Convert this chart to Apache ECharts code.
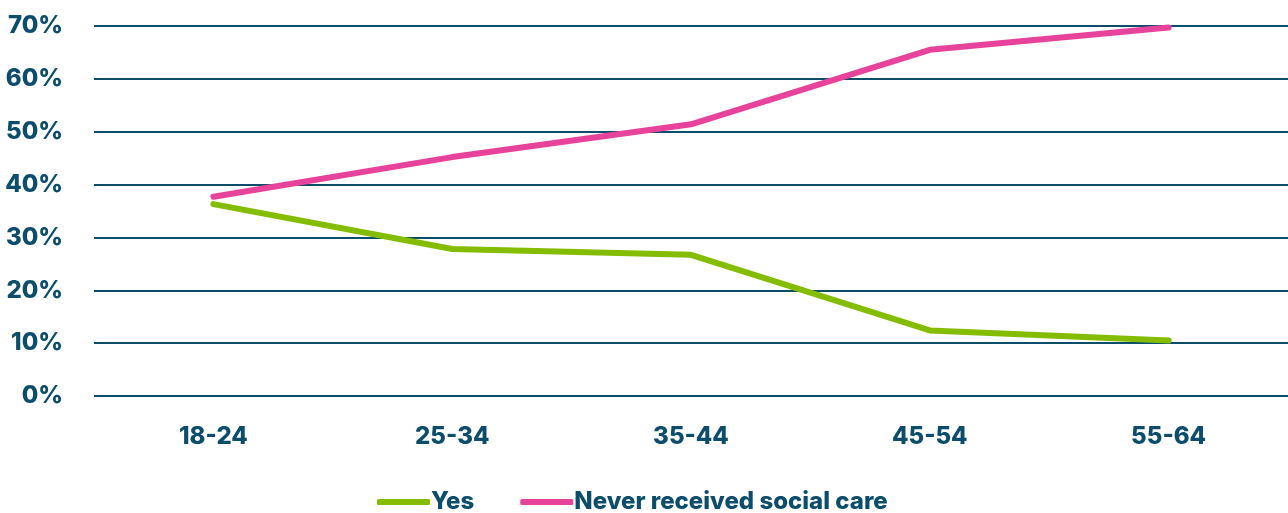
<!DOCTYPE html>
<html>
<head>
<meta charset="utf-8">
<script src="https://cdn.jsdelivr.net/npm/echarts@6/dist/echarts.min.js"></script>
<style>html,body{margin:0;padding:0;background:#fff}#c{width:1288px;height:513px}</style>
</head>
<body>
<div id="c"></div>
<script>
const categories = ['18-24', '25-34', '35-44', '45-54', '55-64'];
const yesValues = [36.3, 27.8, 26.7, 12.4, 10.5];
const neverValues = [37.7, 45.2, 51.4, 65.5, 69.7];
const seriesNames = ['Yes', 'Never received social care'];

const navy = '#0b4d6b';
const font = 'Inter';
const chart = echarts.init(document.getElementById('c'));
chart.setOption({
  animation: false,
  grid: { left: 94, right: 0, top: 26, bottom: 117 },
  legend: {
    top: 485,
    left: 372,
    itemWidth: 53,
    itemHeight: 6,
    itemGap: 46,
    icon: 'roundRect',
    textStyle: { color: navy, fontFamily: font, fontWeight: 800, fontSize: 24, padding: [0,0,0,-4] },
    data: seriesNames
  },
  xAxis: {
    type: 'category',
    data: categories,
    boundaryGap: true,
    axisLine: { show: false },
    axisTick: { show: false },
    axisLabel: { color: navy, fontFamily: font, fontWeight: 800, fontSize: 24, margin: 29 }
  },
  yAxis: {
    type: 'value',
    min: 0, max: 70, interval: 10,
    axisLine: { show: false },
    axisTick: { show: false },
    splitLine: { lineStyle: { color: navy, width: 2 } },
    axisLabel: { color: navy, fontFamily: font, fontWeight: 800, fontSize: 24, margin: 31, formatter: '{value}%' }
  },
  series: [
    { name: seriesNames[0], type: 'line', data: yesValues, showSymbol: false, symbol: 'none',
      lineStyle: { color: '#84bd00', width: 6, cap: 'round' }, itemStyle: { color: '#84bd00' } },
    { name: seriesNames[1], type: 'line', data: neverValues, showSymbol: false, symbol: 'none',
      lineStyle: { color: '#e8439a', width: 6, cap: 'round' }, itemStyle: { color: '#e8439a' } }
  ]
});
</script>
</body>
</html>
